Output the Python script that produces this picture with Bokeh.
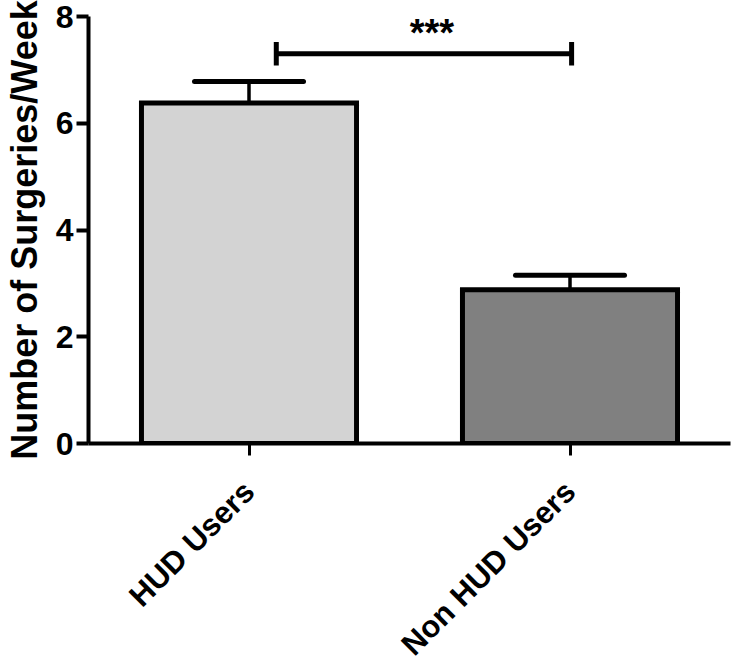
import math
from bokeh.plotting import figure
from bokeh.models import FactorRange, Range1d, FixedTicker, ColumnDataSource, Whisker, TeeHead
from bokeh.transform import dodge
from bokeh.core.properties import value
from bokeh.embed import file_html
from bokeh.resources import INLINE

# ---- data ----
groups = ["HUD Users", "Non HUD Users"]
means = [6.38, 2.88]
sems = [0.40, 0.27]
bar_colors = ["#d3d3d3", "#808080"]
y_ticks = [0, 2, 4, 6, 8]
y_label = "Number of Surgeries/Week"
sig_label = "***"
sig_y = 7.3
sig_cap_low = 7.08
sig_cap_high = 7.52
sig_text_y = 7.70

FONT = "Liberation Sans"

p = figure(x_range=FactorRange(*groups), y_range=Range1d(0, 8),
           frame_width=642, frame_height=427, output_backend="svg", toolbar_location=None,
           min_border_left=85, min_border_top=16, min_border_right=8,
           min_border_bottom=224)
p.outline_line_color = None
p.xgrid.visible = False
p.ygrid.visible = False
p.background_fill_color = "white"
p.border_fill_color = "white"

src = ColumnDataSource(dict(x=groups, top=means, upper=[m + s for m, s in zip(means, sems)],
                            color=bar_colors))
p.vbar(x="x", top="top", bottom=0, width=0.67, source=src, fill_color="color",
       line_color="black", line_width=5, line_join="miter")

wh = Whisker(base="x", upper="upper", lower="top", source=src, dimension="height",
             line_width=3.5, line_color="black",
             upper_head=TeeHead(size=109, line_width=5, line_color="black", line_cap="round"),
             lower_head=None, level="underlay")
p.add_layout(wh)

sig = ColumnDataSource(dict(x0=[groups[0]], x1=[groups[1]], y=[sig_y],
                            ylo=[sig_cap_low], yhi=[sig_cap_high], ty=[sig_text_y],
                            label=[sig_label]))
p.segment(x0=dodge("x0", 0.085, range=p.x_range), y0="y",
          x1=dodge("x1", 0.005, range=p.x_range), y1="y", source=sig,
          line_color="black", line_width=5)
p.segment(x0=dodge("x0", 0.085, range=p.x_range), y0="ylo",
          x1=dodge("x0", 0.085, range=p.x_range), y1="yhi", source=sig,
          line_color="black", line_width=5)
p.segment(x0=dodge("x1", 0.005, range=p.x_range), y0="ylo",
          x1=dodge("x1", 0.005, range=p.x_range), y1="yhi", source=sig,
          line_color="black", line_width=5)
p.text(x=dodge("x1", -0.43, range=p.x_range), y="ty", text="label", source=sig,
       text_font=value(FONT), text_font_style="bold", text_font_size="38px",
       text_align="center", text_baseline="alphabetic", text_color="black")

# axes
for ax in (p.xaxis[0], p.yaxis[0]):
    ax.axis_line_width = 4
    ax.axis_line_color = "black"
    ax.major_tick_line_width = 4
    ax.major_tick_line_color = "black"
    ax.major_tick_in = 0
    ax.major_tick_out = 12
    ax.minor_tick_line_color = None
    ax.major_label_text_font = FONT
    ax.major_label_text_font_style = "bold"
    ax.major_label_text_color = "black"

p.yaxis.ticker = FixedTicker(ticks=y_ticks)
p.yaxis.major_label_text_font_size = "32px"
p.yaxis.major_label_standoff = 3
p.yaxis.axis_label = y_label
p.yaxis.axis_label_text_font = FONT
p.yaxis.axis_label_text_font_style = "bold"
p.yaxis.axis_label_text_font_size = "36px"
p.yaxis.axis_label_text_color = "black"
p.yaxis.axis_label_standoff = 8

p.xaxis.major_tick_line_width = 3
p.xaxis.major_label_text_font_size = "31px"
p.xaxis.major_label_orientation = math.pi / 4
p.xaxis.major_label_standoff = 31

open("out.html", "w").write(file_html(p, INLINE))
